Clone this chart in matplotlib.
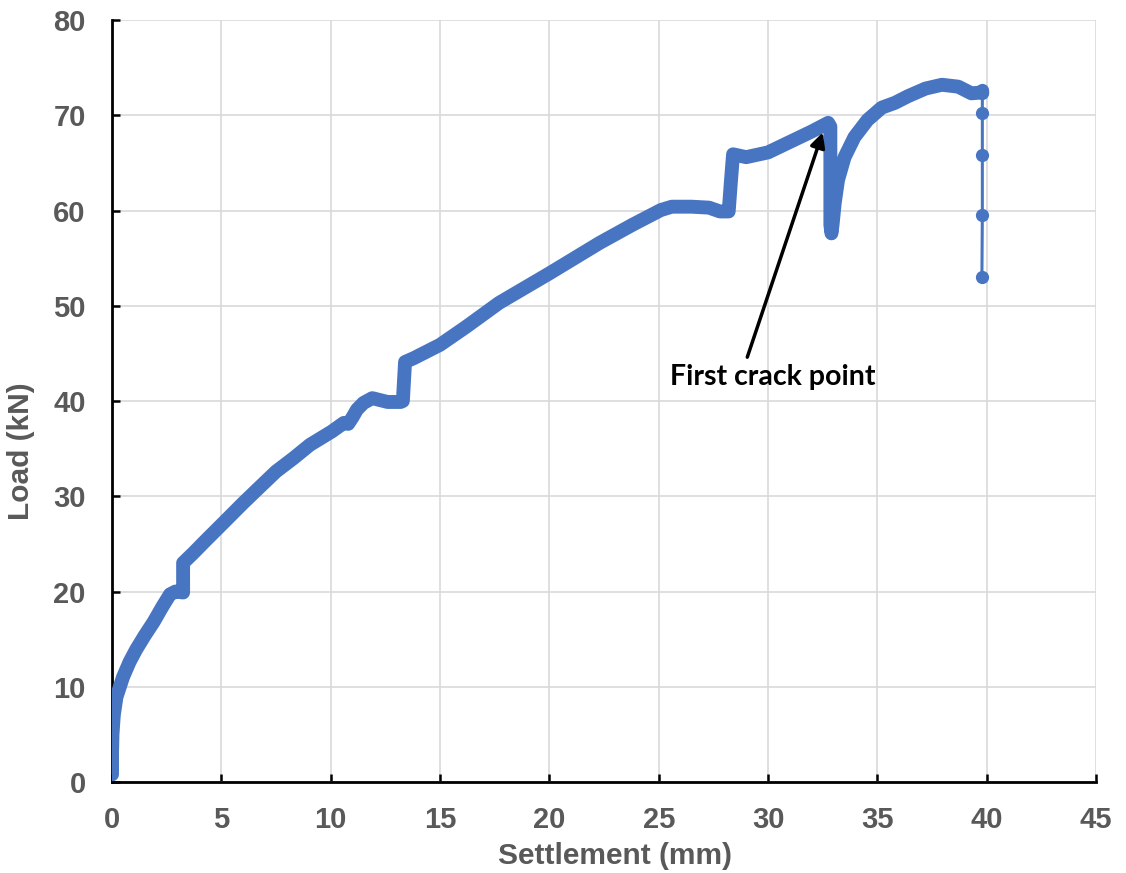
import matplotlib
matplotlib.use("Agg")
import matplotlib.pyplot as plt

# Load-settlement record (settlement in mm, load in kN)
settlement = [0.0, 0.0, 0.02, 0.08, 0.2, 0.5, 0.8, 1.1, 1.5, 1.9, 2.3, 2.65, 2.9,
              3.25, 3.25, 3.7, 4.3, 5.0, 6.0, 6.77, 7.5, 8.3, 9.05, 10.05, 10.6,
              10.8, 11.0, 11.2, 11.5, 11.9, 12.6, 13.2, 13.3, 13.4, 13.8, 15.0,
              16.2, 17.7, 20.0, 22.3, 23.8, 25.1, 25.6, 26.5, 27.3, 27.8, 28.2,
              28.3, 28.4, 29.0, 30.0, 31.0, 32.0, 32.75, 32.85, 32.85, 32.85,
              32.9, 32.95, 33.05, 33.2, 33.5, 33.95, 34.55, 35.2, 35.8, 36.4,
              37.2, 37.95, 38.7, 39.3, 39.8]
load = [0.8, 3.0, 5.0, 7.0, 8.9, 11.0, 12.6, 13.9, 15.4, 16.8, 18.4, 19.7, 20.0,
        19.9, 23.0, 24.0, 25.4, 27.0, 29.3, 31.0, 32.6, 34.0, 35.4, 36.8, 37.7,
        37.6, 38.3, 39.1, 39.8, 40.3, 39.9, 39.9, 40.0, 44.1, 44.5, 45.9,
        47.8, 50.3, 53.4, 56.6, 58.5, 60.05, 60.4, 60.4, 60.3, 59.9, 59.9,
        63.0, 65.9, 65.6, 66.1, 67.2, 68.3, 69.2, 68.8, 62.0, 58.5,
        57.6, 58.5, 60.8, 63.2, 65.6, 67.7, 69.5, 70.8, 71.3, 72.0,
        72.8, 73.2, 73.0, 72.3, 72.4]

# Post-peak readings after the final load drop
drop_settlement = [39.8, 39.8, 39.8, 39.8, 39.8, 39.78]
drop_load = [72.6, 72.3, 70.2, 65.8, 59.5, 53.0]

x_ticks = [0, 5, 10, 15, 20, 25, 30, 35, 40, 45]
y_ticks = [0, 10, 20, 30, 40, 50, 60, 70, 80]

blue = "#4775C2"
label_grey = "#595959"

fig = plt.figure(figsize=(11.26, 8.73), dpi=100)
ax = fig.add_axes([0.0995, 0.1042, 0.8739, 0.8729])

ax.plot(settlement, load, color=blue, linewidth=10,
        solid_capstyle="round", solid_joinstyle="round", zorder=3)
ax.plot(drop_settlement, drop_load, color=blue, linewidth=2.2,
        marker="o", markersize=8.5, zorder=3)

ax.set_xlim(0, 45)
ax.set_ylim(0, 80)
ax.set_xticks(x_ticks)
ax.set_yticks(y_ticks)

ax.grid(True, color="#d9d9d9", linewidth=1.2)
ax.set_axisbelow(True)

for side in ("top", "right"):
    ax.spines[side].set_visible(False)
for side in ("left", "bottom"):
    ax.spines[side].set_linewidth(2.0)
    ax.spines[side].set_color("black")

ax.tick_params(axis="both", direction="in", length=6, width=1.8,
               labelsize=21, labelcolor=label_grey)
ax.tick_params(axis="x", pad=17)
ax.tick_params(axis="y", pad=19)
for lbl in ax.get_xticklabels() + ax.get_yticklabels():
    lbl.set_fontweight("bold")
    lbl.set_family("Liberation Sans")

ax.set_xlabel("Settlement (mm)", fontsize=21.5, fontweight="bold",
              color=label_grey, family="Liberation Sans")
ax.set_ylabel("Load (kN)", fontsize=21.5, fontweight="bold",
              color=label_grey, family="Liberation Sans")
ax.xaxis.set_label_coords(0.511, -0.079)
ax.yaxis.set_label_coords(-0.078, 0.434)

# Arrow pointing at the first crack, with its label just below the tail
ax.annotate("", xy=(32.5, 68.2), xytext=(29.05, 44.6),
            arrowprops=dict(arrowstyle="-|>", color="black", lw=2.5,
                            mutation_scale=22, shrinkA=0, shrinkB=0),
            zorder=4)
ax.text(30.2, 42.5, "First crack point", ha="center", va="center",
        fontsize=20.5, fontweight="bold", family="Lato", color="black",
        zorder=4)

fig.savefig("out.png", dpi=100)
